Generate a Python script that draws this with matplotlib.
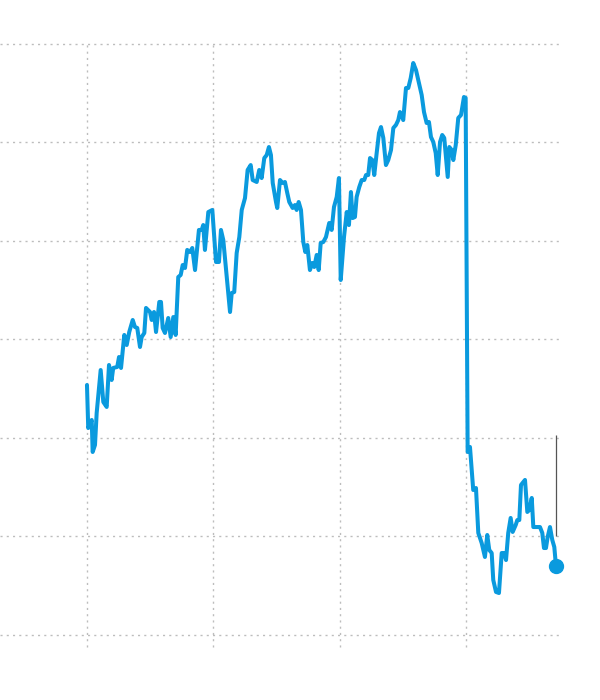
import matplotlib
matplotlib.use("Agg")
import matplotlib.pyplot as plt

# months since start of series
months = [0, 0.12, 0.45, 0.54, 0.76, 0.92, 1.30, 1.55, 1.87, 2.09, 2.34, 2.49, 2.87, 3.04, 3.23,
          3.54, 3.77, 4.01, 4.34, 4.55, 4.77, 5.03, 5.19, 5.44, 5.60, 5.98, 6.14, 6.36, 6.55,
          6.86, 7.02, 7.18, 7.40, 7.71, 7.94, 8.19, 8.41, 8.66, 8.89, 9.08, 9.30, 9.51, 9.77,
          9.99, 10.25, 10.62, 10.88, 11.03, 11.19, 11.51, 11.89, 12.24, 12.52, 12.71, 12.93,
          13.57, 13.73, 13.97, 14.20, 14.45, 14.68, 14.99, 15.24, 15.53, 15.72, 16.10, 16.34,
          16.57, 16.82, 17.05, 17.26, 17.45, 17.62, 17.93, 18.05, 18.31, 18.56, 18.78, 19.00,
          19.19, 19.51, 19.73, 19.89, 20.08, 20.30, 20.52, 20.71, 20.90, 21.15, 21.37, 21.56,
          21.79, 21.98, 22.17, 22.42, 22.67, 22.98, 23.21, 23.43, 23.69, 23.90, 24.07, 24.38,
          24.64, 24.85, 25.04, 25.20, 25.42, 25.58, 25.83, 26.06, 26.30, 26.47, 26.68, 26.85,
          27.07, 27.25, 27.48, 27.70, 27.89, 28.11, 28.36, 28.58, 28.84, 29.06, 29.31, 29.53,
          29.69, 29.85, 30.00, 30.26, 30.48, 30.71, 30.95, 31.21, 31.43, 31.75, 31.97, 32.22,
          32.44, 32.63, 32.85, 33.08, 33.27, 33.49, 33.70, 33.89, 34.22, 34.37, 34.60, 34.75,
          34.98, 35.22, 35.48, 35.76, 35.92, 36.11, 36.33, 36.64, 36.90, 37.12, 37.44, 37.75,
          37.97, 38.16, 38.39, 38.54, 38.80, 39.08, 39.34, 39.56, 39.75, 39.96, 40.19, 40.38,
          40.67, 40.82, 41.01, 41.17, 41.39, 41.55, 41.77, 41.96, 42.19, 42.34, 42.66, 42.97,
          43.19, 43.35, 43.54, 43.70, 43.92, 44.14, 44.33, 44.49]

prices = [25.38, 21.01, 21.83, 18.58, 19.29, 22.54, 26.90, 23.65, 23.15, 27.41, 25.89, 27.11, 27.21,
          28.22, 27.11, 30.46, 29.44, 30.76, 31.98, 31.27, 31.17, 29.24, 30.25, 30.66, 33.20,
          32.79, 31.98, 32.79, 30.76, 33.81, 33.81, 31.17, 30.66, 32.18, 30.25, 32.28, 30.46,
          36.34, 36.55, 37.56, 37.26, 39.09, 38.88, 39.29, 37.05, 41.12, 41.12, 41.62, 39.09,
          42.94, 43.15, 37.87, 37.87, 41.12, 40.10, 32.79, 34.72, 34.82, 38.78, 40.40, 43.15,
          44.36, 47.21, 47.71, 46.19, 45.99, 47.21, 46.39, 48.42, 48.73, 49.54, 48.73, 45.89,
          43.96, 43.35, 46.19, 45.89, 45.99, 44.87, 43.96, 43.35, 43.65, 43.15, 43.96, 43.15,
          39.90, 38.88, 39.59, 37.05, 37.77, 37.36, 38.58, 37.05, 39.80, 39.90, 40.40, 41.83,
          41.12, 43.45, 44.47, 46.39, 36.04, 40.40, 42.94, 41.62, 44.97, 42.33, 42.44, 44.47,
          45.48, 46.19, 46.19, 46.70, 46.70, 48.42, 48.22, 46.70, 48.93, 50.96, 51.57, 50.46,
          47.71, 48.22, 49.24, 51.47, 51.78, 52.28, 53.09, 52.79, 52.28, 55.53, 55.53, 56.55,
          58.07, 57.36, 56.34, 54.82, 53.09, 51.98, 52.08, 50.56, 50.05, 48.93, 46.70, 50.05,
          50.76, 50.46, 46.50, 49.54, 49.24, 48.22, 49.74, 52.49, 52.79, 54.62, 54.52, 18.58,
          19.09, 14.72, 14.92, 10.36, 9.34, 7.92, 10.15, 8.63, 8.32, 5.58, 4.37, 4.26, 8.32,
          8.32, 7.61, 10.36, 11.88, 10.46, 11.17, 11.67, 11.67, 15.23, 15.53, 15.74, 12.49,
          12.69, 13.91, 10.96, 10.96, 10.96, 10.36, 8.83, 8.83, 9.95, 10.96, 9.64, 8.93, 7.00]

y_grid = [0, 10, 20, 30, 40, 50, 60]
x_grid = [0, 12, 24, 36]
marker_range = [10.0, 20.3]

LINE = "#0a9ade"
GRID = "#bdbdbd"

fig = plt.figure(figsize=(6, 7), dpi=100)
ax = fig.add_axes([0, 53 / 700, 562 / 600, 603 / 700])
ax.set_xlim(-8.25, 45.06)
ax.set_ylim(-1.22, 60)
ax.axis("off")

dots = (0, (1.5, 3))
for yv in y_grid:
    ax.axhline(yv, color=GRID, lw=1.0, linestyle=dots, clip_on=False, zorder=1)
for xv in x_grid:
    ax.axvline(xv, color=GRID, lw=1.0, linestyle=dots, clip_on=False, zorder=1)

ax.vlines(months[-1], marker_range[0], marker_range[1], color="#555555", lw=0.9, zorder=2)

ax.plot(months, prices, color=LINE, lw=2.9, solid_joinstyle="round",
        solid_capstyle="round", zorder=3, clip_on=False)
ax.plot([months[-1]], [prices[-1]], "o", color=LINE, markersize=10, zorder=4, clip_on=False)

fig.savefig("out.png", dpi=100)
